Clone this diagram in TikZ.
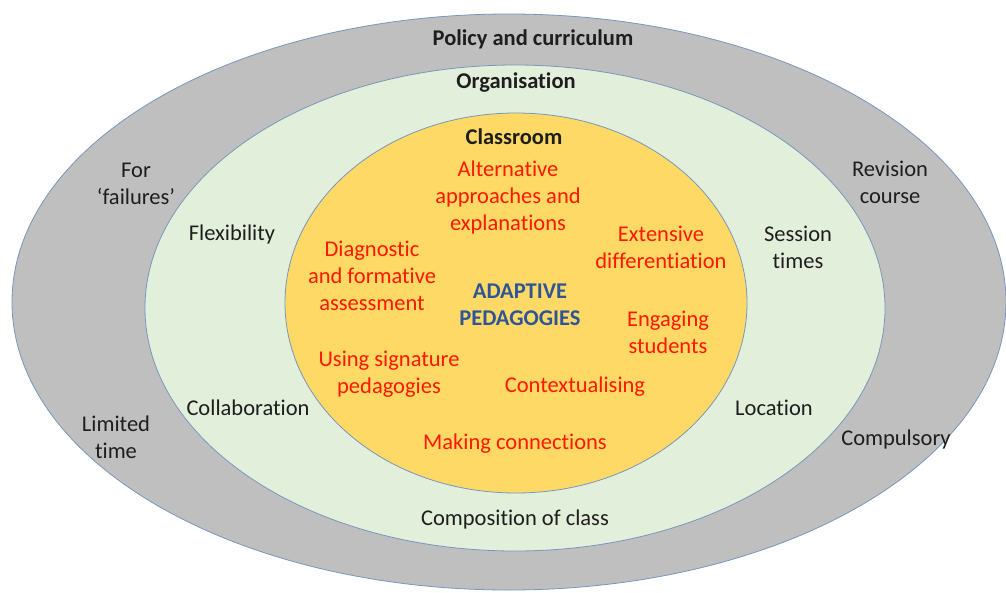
\documentclass[tikz,border=0pt]{standalone}
\usepackage{fontspec}
\setmainfont[RawFeature={-liga;-clig}]{Carlito}
\definecolor{outerfill}{RGB}{191,191,191}
\definecolor{midfill}{RGB}{226,239,218}
\definecolor{innerfill}{RGB}{255,217,102}
\definecolor{rimcol}{RGB}{120,150,190}
\definecolor{redtxt}{RGB}{255,24,0}
\definecolor{bluetxt}{RGB}{47,85,151}
\definecolor{darktxt}{RGB}{30,30,30}
\begin{document}
\begin{tikzpicture}[x=1pt,y=-1pt,
  ring/.style={draw=rimcol,line width=0.8pt},
  lbl/.style={font=\fontsize{22.5}{27}\selectfont,align=center,text=darktxt,inner sep=0pt},
  head/.style={lbl,font=\fontsize{22.5}{27}\selectfont\bfseries},
  red/.style={lbl,text=redtxt},
  core/.style={lbl,font=\fontsize{22.5}{27}\selectfont\bfseries,text=bluetxt}]
\useasboundingbox (0,0) rectangle (1006,592);
\fill[white] (0,0) rectangle (1006,592);
\path[ring,fill=outerfill] (509,302) ellipse [x radius=497, y radius=288];
\path[ring,fill=midfill] (515,308) ellipse [x radius=370, y radius=243];
\path[ring,fill=innerfill] (516,303) ellipse [x radius=231, y radius=190];

\node[head] (policy) at (533,39) {Policy and curriculum};
\node[head] (org) at (516,83) {Organisation};
\node[head] (class) at (514,137) {Classroom};

\node[red] (alt) at (508,197) {Alternative\\approaches and\\explanations};
\node[red] (diag) at (372,276) {Diagnostic\\and formative\\assessment};
\node[red] (ext) at (661,247.5) {Extensive\\differentiation};
\node[core] (adapt) at (520,304.5) {ADAPTIVE\\PEDAGOGIES};
\node[red] (eng) at (668,332.5) {Engaging\\students};
\node[red] (sig) at (389,374.5) {Using signature\\pedagogies};
\node[red] (ctx) at (575,387) {Contextualising};
\node[red] (conn) at (515,444) {Making connections};

\node[lbl] (fail) at (136,184) {For\\‘failures’};
\node[lbl] (rev) at (890,182.5) {Revision\\course};
\node[lbl] (flex) at (232,234) {Flexibility};
\node[lbl] (sess) at (798,247.5) {Session\\times};
\node[lbl] (collab) at (248,408) {Collaboration};
\node[lbl] (loc) at (774,408) {Location};
\node[lbl] (lim) at (116,437.5) {Limited\\time};
\node[lbl] (comp) at (896,439) {Compulsory};
\node[lbl] (compo) at (515,519) {Composition of class};
\end{tikzpicture}
\end{document}
